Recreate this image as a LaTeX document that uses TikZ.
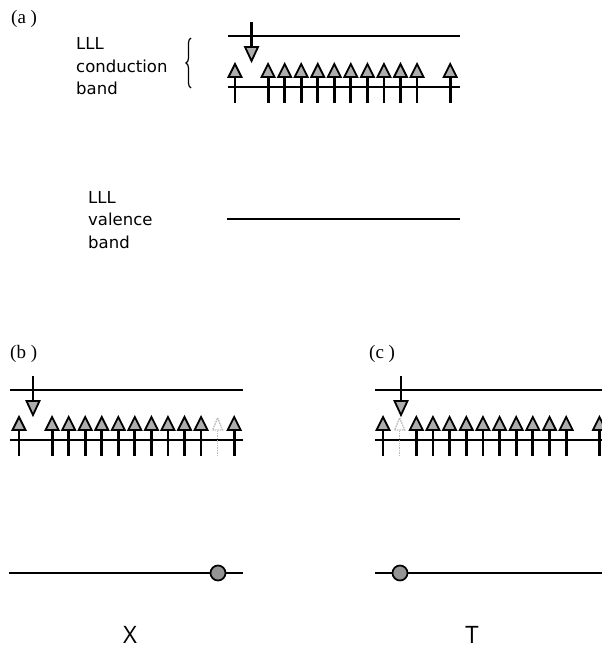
\documentclass[tikz,border=0pt]{standalone}
\usepackage{fontspec}
\setmainfont{Liberation Serif}
\newfontfamily\labelfont{DejaVu Sans}
\newfontfamily\kfont{Open Sans}
\usetikzlibrary{decorations.pathreplacing}
\definecolor{headgray}{gray}{0.68}
\definecolor{holegray}{gray}{0.58}
\tikzset{
  band/.style={line width=1.4pt},
  shaft/.style={line width=2.8pt},
  head/.style={fill=headgray, draw=black, line width=1.8pt, line join=miter},
  faint/.style={gray!55, densely dotted, line width=1.4pt},
  hole/.style={circle, fill=holegray, draw=black, line width=1.7pt, minimum size=15pt, inner sep=0pt},
  paren/.style={font=\fontsize{19}{19}\selectfont, anchor=west, inner sep=0pt},
  bandlabel/.style={font=\labelfont\fontsize{16.5}{16.5}\selectfont, anchor=west, inner sep=0pt},
  kpoint/.style={font=\kfont\fontsize{24}{24}\selectfont, inner sep=0pt},
  % spin-up electron sitting on the lower conduction level
  pics/spinup/.style={code={
    \draw[shaft] (0,16) -- (0,-10);
    \draw[head] (-6.5,-10) -- (6.5,-10) -- (0,-23) -- cycle;
  }},
  % empty (removed) spin-up state
  pics/spinghost/.style={code={
    \draw[faint] (0,16) -- (0,-10);
    \draw[faint] (-5,-10) -- (5,-10) -- (0,-22) -- cycle;
  }},
  % spin-down electron on the upper conduction level
  pics/spindown/.style={code={
    \draw[shaft] (0,-14) -- (0,11);
    \draw[head] (-6.5,11) -- (6.5,11) -- (0,25) -- cycle;
  }}
}
\begin{document}
\begin{tikzpicture}[x=1pt,y=-1pt]
\useasboundingbox (0,0) rectangle (602,648);
\clip (0,0) rectangle (602,648);

% ---------- panel (a) ----------
\node[paren] (pa) at (11,19) {(a )};
\node[bandlabel] (cl1) at (76,43) {LLL};
\node[bandlabel] (cl2) at (76,66) {conduction};
\node[bandlabel] (cl3) at (76,88) {band};
\draw[line width=1.2pt, decorate, decoration={brace, amplitude=5pt}]
  (191,88) -- (191,38);
\coordinate (aTopL) at (228,36);  \coordinate (aTopR) at (460,36);
\coordinate (aLowL) at (228,87);  \coordinate (aLowR) at (460,87);
\draw[band] (aTopL) -- (aTopR);
\draw[band] (aLowL) -- (aLowR);
\foreach \i in {0,2,3,...,11,13} \pic at (235+16.55*\i,87) {spinup};
\pic at (235+16.55,36) {spindown};

\node[bandlabel] (vl1) at (88,197) {LLL};
\node[bandlabel] (vl2) at (88,219) {valence};
\node[bandlabel] (vl3) at (88,242) {band};
\coordinate (aValL) at (227,219); \coordinate (aValR) at (460,219);
\draw[band] (aValL) -- (aValR);

% ---------- panel (b) ----------
\node[paren] (pb) at (10,354) {(b )};
\coordinate (bTopL) at (10,390);  \coordinate (bTopR) at (243,390);
\coordinate (bLowL) at (10,440);  \coordinate (bLowR) at (243,440);
\draw[band] (bTopL) -- (bTopR);
\draw[band] (bLowL) -- (bLowR);
\foreach \i in {0,2,3,...,11,13} \pic at (19+16.55*\i,440) {spinup};
\pic at (19+16.55*12,440) {spinghost};
\pic at (33,390) {spindown};
\coordinate (bValL) at (9,573); \coordinate (bValR) at (243,573);
\draw[band] (bValL) -- (bValR);
\node[hole] (bh) at (218,573) {};
\node[kpoint] (X) at (130,635) {X};

% ---------- panel (c) ----------
\node[paren] (pc) at (369,354) {(c )};
\coordinate (cTopL) at (375,390);  \coordinate (cTopR) at (610,390);
\coordinate (cLowL) at (375,440);  \coordinate (cLowR) at (610,440);
\draw[band] (cTopL) -- (cTopR);
\draw[band] (cLowL) -- (cLowR);
\foreach \i in {0,2,3,...,11,13} \pic at (383+16.65*\i,440) {spinup};
\pic at (383+16.65,440) {spinghost};
\pic at (401,390) {spindown};
\coordinate (cValL) at (375,573); \coordinate (cValR) at (610,573);
\draw[band] (cValL) -- (cValR);
\node[hole] (ch) at (400,573) {};
\node[kpoint] (T) at (472,635) {T};
\end{tikzpicture}
\end{document}
